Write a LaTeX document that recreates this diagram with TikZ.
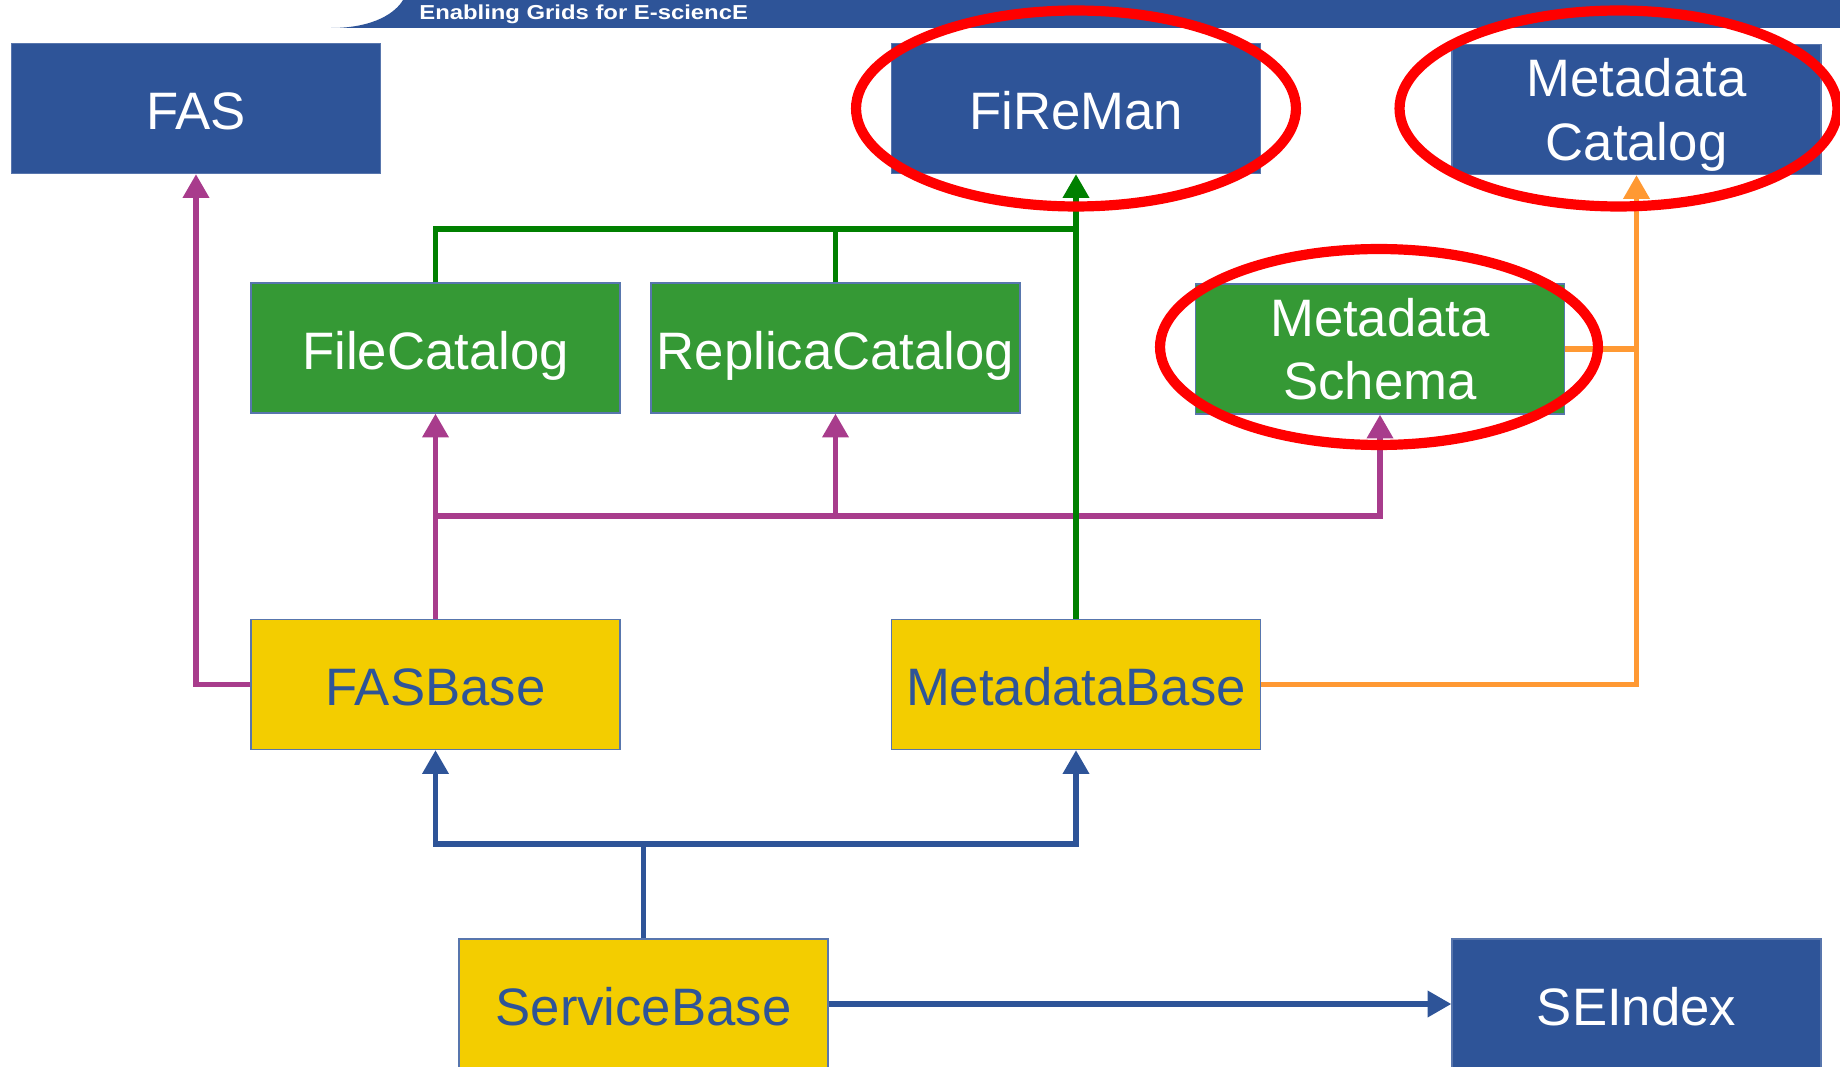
\documentclass[tikz,border=0pt]{standalone}
\usepackage{fontspec}
\setmainfont{Liberation Sans}
\newfontfamily\bannerfont[FakeStretch=1.18]{Liberation Sans}
\usepackage{tikz}
\usetikzlibrary{positioning,arrows.meta,calc}

\definecolor{egeeblue}{RGB}{46,84,152}
\definecolor{egeegreen}{RGB}{53,153,53}
\definecolor{egeeyellow}{RGB}{243,205,0}
\definecolor{linkgreen}{RGB}{0,128,0}
\definecolor{linkpurple}{RGB}{168,60,140}
\definecolor{linkorange}{RGB}{255,153,51}

\begin{document}
\begin{tikzpicture}[
    x=0.02cm, y=-0.02cm,
    box/.style={rectangle, draw=egeeblue!80!white, line width=0.8pt, minimum width=7.38cm, minimum height=2.6cm, align=center, font=\fontsize{30}{36}\selectfont, inner sep=0pt, text depth=0pt},
    oneline/.style={text height=24pt},
    bluebox/.style={box, fill=egeeblue, text=white},
    greenbox/.style={box, fill=egeegreen, text=white},
    yellowbox/.style={box, fill=egeeyellow, text=egeeblue},
    link/.style={line width=3pt},
    arrow/.style={link, -{Triangle[length=13.5pt, width=14.5pt]}},
    ring/.style={draw=red, line width=5.8pt},
]
    \useasboundingbox (0,0) rectangle (1840,1067);

    % Banner
    \fill[egeeblue] (331,28) .. controls (375,28) and (396,12) .. (403,0) -- (1840,0) -- (1840,28) -- cycle;
    \node[anchor=base west, text=white, font=\bannerfont\fontsize{11.5}{13}\selectfont\bfseries, inner sep=0pt] (banner) at (419,19.5) {Enabling Grids for E-sciencE};

    % Top row
    \node[bluebox, oneline] (fas) at (196,108.5) {FAS};
    \node[bluebox, oneline] (fireman) at (1076,108.5) {FiReMan};
    \node[bluebox] (metacat) at (1636.5,109.5) {Metadata\\Catalog};

    % Catalog row
    \node[greenbox, oneline] (filecat) at (435.5,348) {FileCatalog};
    \node[greenbox, oneline] (replcat) at (835.5,348) {ReplicaCatalog};
    \node[greenbox] (metaschema) at (1380,349) {Metadata\\Schema};

    % Base row
    \node[yellowbox, oneline] (fasbase) at (435.5,684.5) {FASBase};
    \node[yellowbox, oneline] (metabase) at (1076,684.5) {MetadataBase};

    % Bottom row
    \node[yellowbox, oneline] (servbase) at (643.5,1004) {ServiceBase};
    \node[bluebox, oneline] (seindex) at (1636.5,1004) {SEIndex};

    % Purple links
    \coordinate (pj) at (435.5,516);
    \draw[arrow, linkpurple] (fasbase.west) -| (fas.south);
    \draw[arrow, linkpurple] (fasbase.north) -- (filecat.south);
    \draw[arrow, linkpurple] (pj) -| (replcat.south);
    \draw[arrow, linkpurple] (pj) -| (metaschema.south);

    % Green links
    \coordinate (gj) at (1076,229);
    \draw[arrow, linkgreen] (metabase.north) -- (fireman.south);
    \draw[link, linkgreen] (filecat.north) |- (gj);
    \draw[link, linkgreen] (replcat.north) -- (replcat.north |- gj);

    % Orange links
    \draw[arrow, linkorange] (metabase.east) -| (metacat.south);
    \draw[link, linkorange] (metaschema.east) -- (metaschema.east -| metacat.south);

    % Blue links
    \coordinate (bj) at (643.5,844);
    \draw[link, egeeblue] (servbase.north) -- (bj);
    \draw[arrow, egeeblue] (bj) -| (fasbase.south);
    \draw[arrow, egeeblue] (bj) -| (metabase.south);
    \draw[arrow, egeeblue] (servbase.east) -- (seindex.west);

    % Highlight rings
    \draw[ring] (fireman.center) ellipse [x radius=4.4cm, y radius=1.96cm];
    \draw[ring] ($(metacat.center)+(-18,-1)$) ellipse [x radius=4.38cm, y radius=1.96cm];
    \draw[ring] ($(metaschema.center)+(-1,-2)$) ellipse [x radius=4.38cm, y radius=1.96cm];
\end{tikzpicture}
\end{document}
